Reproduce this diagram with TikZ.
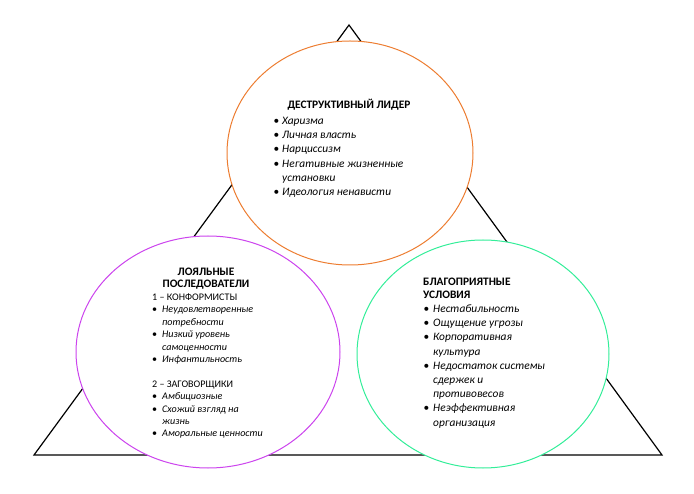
\documentclass[tikz,border=0pt]{standalone}
\usepackage{fontspec}
\setmainfont{Carlito}
\usetikzlibrary{shapes.geometric}
\definecolor{lorange}{RGB}{237,125,49}
\definecolor{lpurple}{RGB}{204,68,238}
\definecolor{lgreen}{RGB}{51,238,153}
\newcommand\bulA[1]{\makebox[8.5pt][l]{\textbullet}\textit{#1}}
\newcommand\conA[1]{\hspace*{8.5pt}\textit{#1}}
\newcommand\bulB[1]{\makebox[10pt][l]{\textbullet}\textit{#1}}
\newcommand\conB[1]{\hspace*{10pt}\textit{#1}}
\newcommand\bulC[1]{\makebox[9.5pt][l]{\textbullet}\textit{#1}}
\newcommand\conC[1]{\hspace*{9.5pt}\textit{#1}}
\begin{document}
\begin{tikzpicture}[x=1pt,y=-1pt,
  circ/.style={ellipse,draw,fill=white,line width=1pt,inner sep=0pt},
  head/.style={font=\bfseries\fontsize{11.4}{12.8}\selectfont,inner sep=0pt},
  lista/.style={font=\fontsize{11.4}{14.2}\selectfont,align=left,inner sep=0pt,anchor=base west},
  listb/.style={font=\fontsize{10.1}{12.4}\selectfont,align=left,inner sep=0pt,anchor=base west}]
\useasboundingbox (0,0) rectangle (694,494);
\coordinate (A) at (349,25);
\coordinate (B) at (34,455);
\coordinate (C) at (662,455);
\draw[line width=1.2pt] (A) -- (B) -- (C) -- cycle;
\node[circ,draw=lpurple,minimum width=264pt,minimum height=232pt] (left) at (208,352) {};
\node[circ,draw=lgreen,minimum width=252pt,minimum height=228pt] (right) at (483,354) {};
\node[circ,draw=lorange,minimum width=246pt,minimum height=224pt] (top) at (350,153) {};
% top texts
\node[head,anchor=base] (toph) at (349,108.5) {ДЕСТРУКТИВНЫЙ ЛИДЕР};
\node[lista] (topl) at (273.5,195.5) {\bulA{Харизма}\\ \bulA{Личная власть}\\ \bulA{Нарциссизм}\\ \bulA{Негативные жизненные}\\ \conA{установки}\\ \bulA{Идеология ненависти}};
% left texts
\node[head,align=center,anchor=base,font=\bfseries\fontsize{11.4}{12.5}\selectfont] (lefth) at (206,288) {ЛОЯЛЬНЫЕ\\ПОСЛЕДОВАТЕЛИ};
\node[listb] (leftl) at (152,436.9) {1 – КОНФОРМИСТЫ\\ \bulB{Неудовлетворенные}\\ \conB{потребности}\\ \bulB{Низкий уровень}\\ \conB{самоценности}\\ \bulB{Инфантильность}\\[12.4pt] 2 – ЗАГОВОРЩИКИ\\ \bulB{Амбициозные}\\ \bulB{Схожий взгляд на}\\ \conB{жизнь}\\ \bulB{Аморальные ценности}};
% right texts
\node[head,align=left,anchor=base west,font=\bfseries\fontsize{11.4}{13}\selectfont] (righth) at (423,298.5) {БЛАГОПРИЯТНЫЕ\\УСЛОВИЯ};
\node[lista] (rightl) at (423.5,426.1) {\bulC{Нестабильность}\\ \bulC{Ощущение угрозы}\\ \bulC{Корпоративная}\\ \conC{культура}\\ \bulC{Недостаток системы}\\ \conC{сдержек и}\\ \conC{противовесов}\\ \bulC{Неэффективная}\\ \conC{организация}};
\end{tikzpicture}
\end{document}
